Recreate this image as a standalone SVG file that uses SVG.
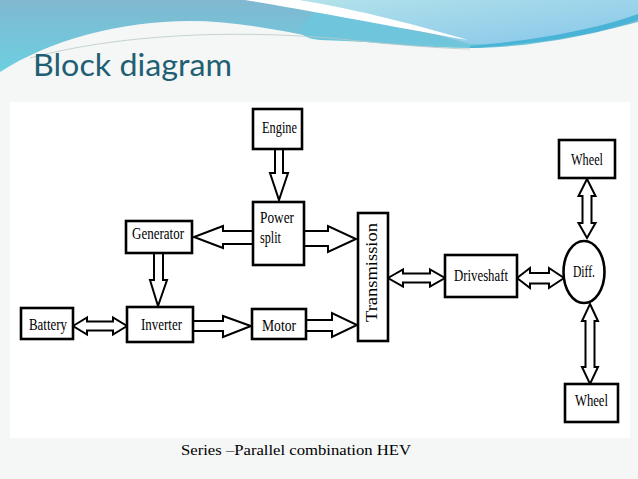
<svg xmlns="http://www.w3.org/2000/svg" width="638" height="479" viewBox="0 0 638 479">
<defs>
<linearGradient id="gBlue" x1="0" y1="0" x2="0" y2="1">
<stop offset="0" stop-color="#80b8d0"/>
<stop offset="1" stop-color="#6ccfe0"/>
</linearGradient>
<linearGradient id="gLight" x1="0" y1="0" x2="1" y2="1">
<stop offset="0" stop-color="#b3e2ea"/>
<stop offset="1" stop-color="#86c6ea"/>
</linearGradient>
<style>
.box{fill:#fff;stroke:#000;stroke-width:2.6}
.arr{fill:#fff;stroke:#000;stroke-width:2;stroke-linejoin:miter}
.lbl{font-family:"Liberation Serif","Times New Roman",serif;font-size:17.5px;fill:#000}
</style>
</defs>
<rect width="638" height="479" fill="#f5f6f6"/>
<!-- decorative top -->
<path d="M0,0 H638 V22 C590,35 530,48 470,48 C420,48 370,42 320,38 C270,28 230,21 190,21 C120,21 50,40 0,72 Z" fill="url(#gBlue)"/>
<path d="M300,0 H638 V20 C600,32 540,44 470,44 C420,30 360,12 300,0 Z" fill="url(#gLight)"/>
<path d="M318,10 C380,22 430,36 470,46 C420,44 370,42 320,40 C300,38 290,30 318,10 Z" fill="#6fc6dc"/>
<path d="M245,0 H300 C360,10 420,26 468,40 C410,30 330,14 245,0 Z" fill="#ffffff"/>
<path d="M470,46 C540,40 600,28 638,14 V20 C600,34 540,44 470,48 Z" fill="#49b4d6"/>
<path d="M30,58 C120,34 230,30 330,38 C390,44 430,48 470,49" fill="none" stroke="#b9c9cc" stroke-width="0.8"/>
<rect x="10" y="102" width="620" height="336" fill="#ffffff"/>
<text x="33" y="76" font-family="Lato,'Open Sans',sans-serif" font-size="31" fill="#1f5f74" textLength="199" lengthAdjust="spacingAndGlyphs">Block diagram</text>

<g id="connectors">
<polygon class="arr" points="275,149 283,149 283,173 288,173 279,200 270,173 275,173"/>
<polygon class="arr" points="253,231 223,231 223,226 194,237 223,248 223,244 253,244"/>
<polygon class="arr" points="304,231 328,231 328,226 356,239 328,252 328,246 304,246"/>
<polygon class="arr" points="154,253 163,253 163,280 167,280 158,306 150,280 154,280"/>
<polygon class="arr" points="193,321 223,321 223,316 251,326 223,337 223,331 193,331"/>
<polygon class="arr" points="306,320 332,320 332,313 357,325 332,337 332,331 306,331"/>
<polygon class="arr" points="73,326 87,317.5 87,321.5 113,321.5 113,317.5 127,326 113,334.5 113,330.5 87,330.5 87,334.5"/>
<polygon class="arr" points="388,278 403,269.5 403,273.5 430,273.5 430,269.5 445,278 430,286.5 430,282.5 403,282.5 403,286.5"/>
<polygon class="arr" points="517,278 530,268 530,273 549,273 549,268 564,278 549,288 549,283.5 530,283.5 530,288"/>
<polygon class="arr" points="587,179 595.5,196 591.5,196 591.5,223 595.5,223 587,238 578.5,223 582.5,223 582.5,196 578.5,196"/>
<polygon class="arr" points="590,304 598,321 594.5,321 594.5,367 598,367 590,384 582,367 585.5,367 585.5,321 582,321"/>
</g>

<g id="engine"><rect class="box" x="253" y="109" width="49" height="40"/><text class="lbl" x="262" y="133" textLength="35" lengthAdjust="spacingAndGlyphs">Engine</text></g>
<g id="power-split"><rect class="box" x="253" y="202" width="51" height="63"/><text class="lbl" x="260" y="223" textLength="34" lengthAdjust="spacingAndGlyphs">Power</text><text class="lbl" x="260" y="243" textLength="21" lengthAdjust="spacingAndGlyphs">split</text></g>
<g id="generator"><rect class="box" x="126" y="221" width="66" height="32"/><text class="lbl" x="132" y="239" textLength="52" lengthAdjust="spacingAndGlyphs">Generator</text></g>
<g id="battery"><rect class="box" x="21" y="308" width="52" height="31"/><text class="lbl" x="29" y="330" textLength="38" lengthAdjust="spacingAndGlyphs">Battery</text></g>
<g id="inverter"><rect class="box" x="127" y="307" width="66" height="35"/><text class="lbl" x="141" y="330" textLength="41" lengthAdjust="spacingAndGlyphs">Inverter</text></g>
<g id="motor"><rect class="box" x="252" y="309" width="54" height="30"/><text class="lbl" x="262" y="331" textLength="34" lengthAdjust="spacingAndGlyphs">Motor</text></g>
<g id="transmission"><rect class="box" x="358" y="213" width="30" height="128"/><text class="lbl" transform="translate(377,322) rotate(-90)" x="0" y="0" font-size="14" textLength="99" lengthAdjust="spacingAndGlyphs">Transmission</text></g>
<g id="driveshaft"><rect class="box" x="445" y="255" width="72" height="42"/><text class="lbl" x="454" y="281" textLength="54" lengthAdjust="spacingAndGlyphs">Driveshaft</text></g>
<g id="diff"><ellipse class="box" cx="584" cy="272" rx="20.5" ry="31"/><text class="lbl" x="573" y="277" textLength="22" lengthAdjust="spacingAndGlyphs">Diff.</text></g>
<g id="wheel-top"><rect class="box" x="559" y="140" width="56" height="38"/><text class="lbl" x="571" y="165" textLength="32" lengthAdjust="spacingAndGlyphs">Wheel</text></g>
<g id="wheel-bottom"><rect class="box" x="565" y="384" width="53" height="38"/><text class="lbl" x="575" y="406" textLength="33" lengthAdjust="spacingAndGlyphs">Wheel</text></g>

<text x="181" y="455" font-family="'Liberation Serif',serif" font-size="15" fill="#000" textLength="230" lengthAdjust="spacingAndGlyphs">Series –Parallel combination HEV</text>
</svg>
